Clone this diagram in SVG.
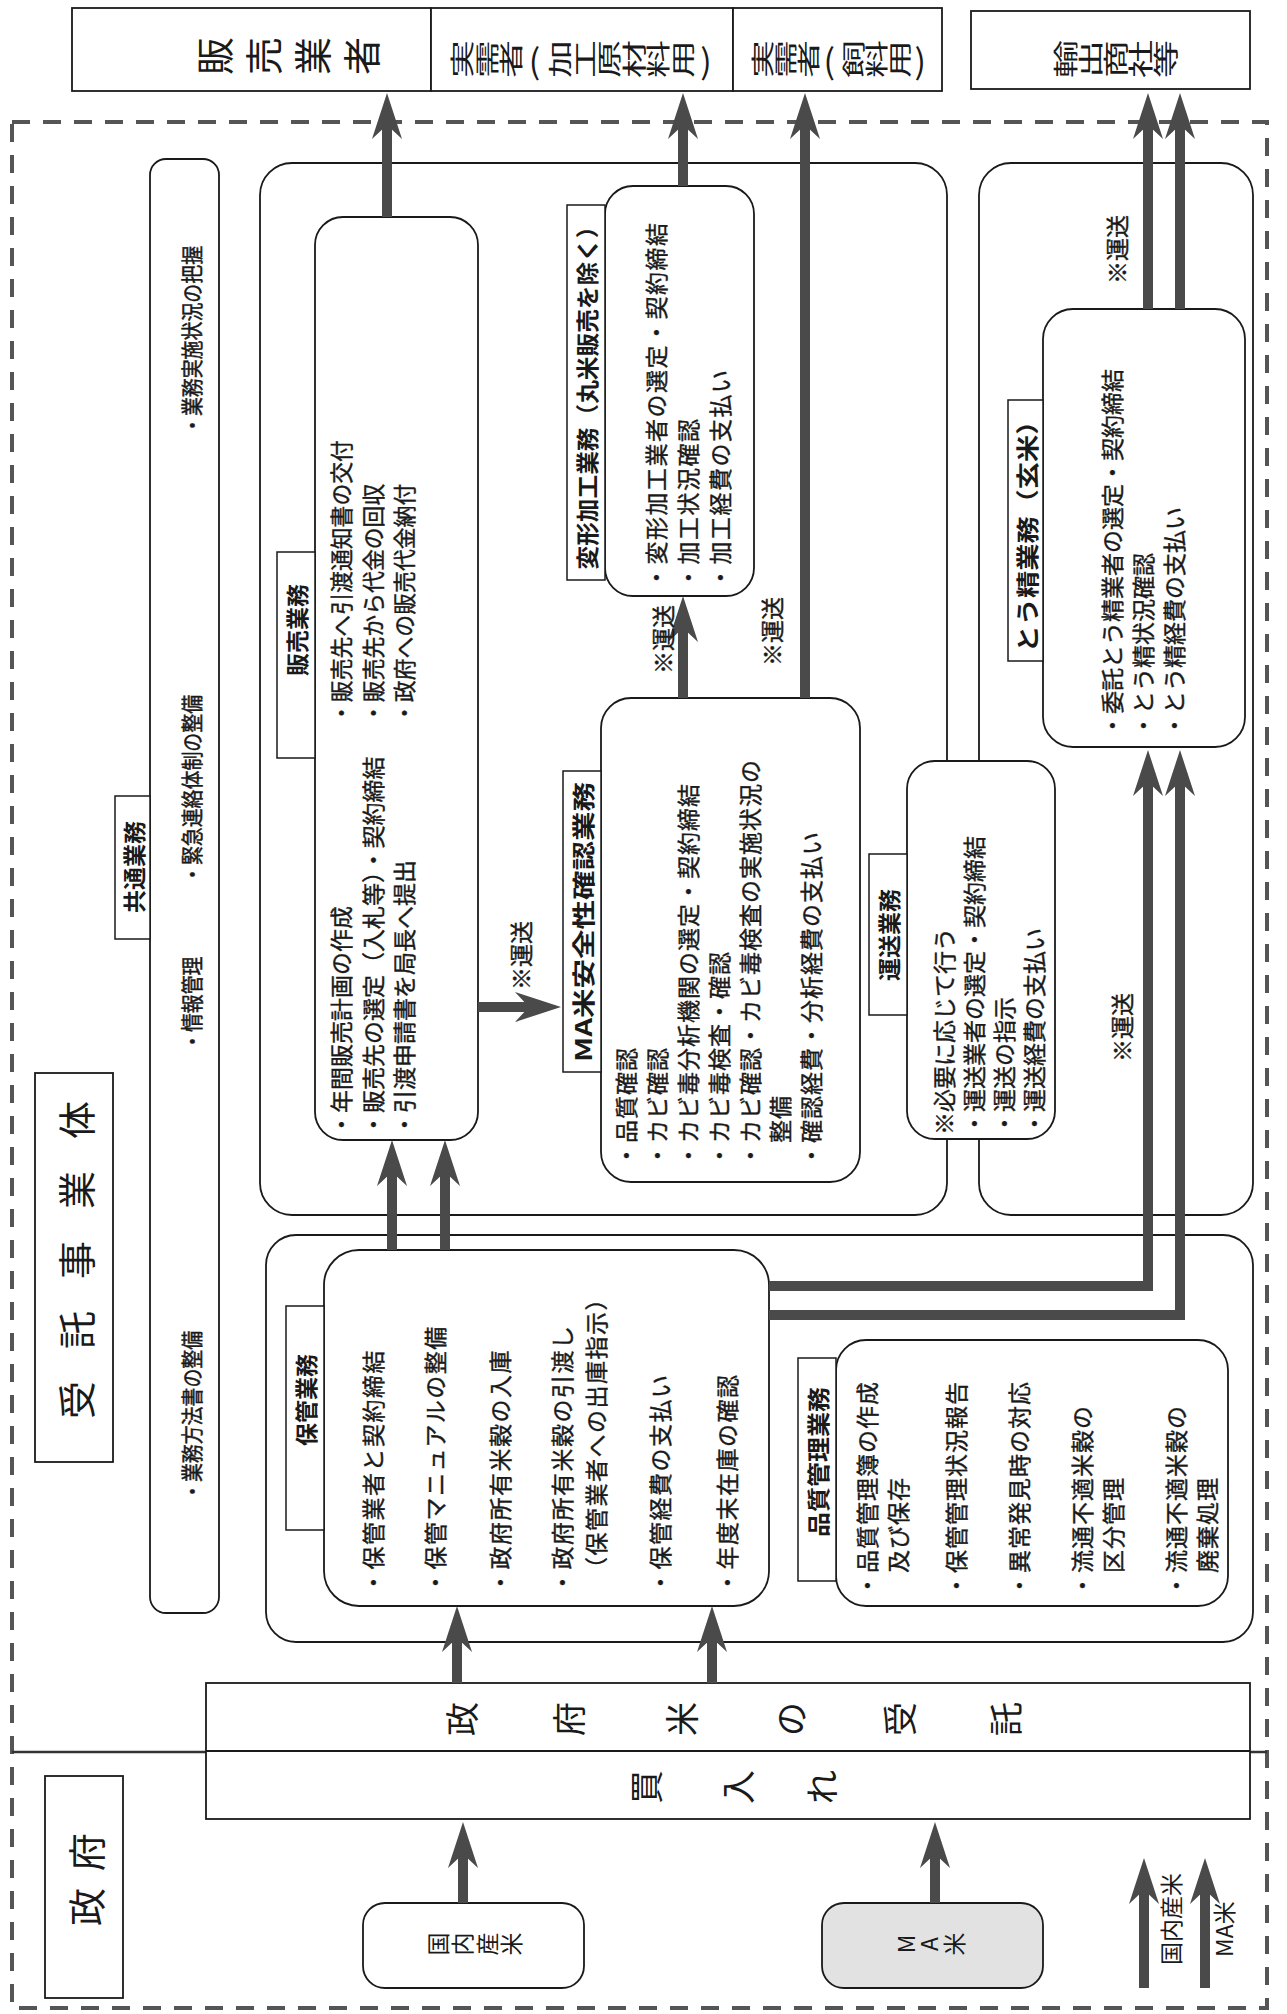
<svg xmlns="http://www.w3.org/2000/svg" width="1287" height="2014" viewBox="0 0 1287 2014">
<style>
text{font-family:"Noto Sans CJK JP","Noto Sans CJK SC",sans-serif;fill:#1a1a1a;dominant-baseline:central}
.box{fill:#fff;stroke:#1a1a1a;stroke-width:1.8}
.grp{fill:none;stroke:#1a1a1a;stroke-width:1.8}
.lbl{fill:#fff;stroke:#1a1a1a;stroke-width:1.5}
.t{font-size:23px;stroke:#1a1a1a;stroke-width:0.4}
.c{font-size:22px;stroke:#1a1a1a;stroke-width:0.5}
.lt{font-size:23px;font-weight:bold;text-anchor:middle}
.g{text-anchor:middle}
.h1{font-size:38px}
.h2{font-size:38px}
.bd{font-size:34px}
.arr{stroke:#4a4a4a;stroke-width:10;fill:none;stroke-linejoin:miter;marker-end:url(#ah)}
.dash{fill:none;stroke:#555;stroke-width:4;stroke-dasharray:18 13}
</style>
<defs>
<marker id="ah" markerUnits="userSpaceOnUse" viewBox="0 -16 46 32" refX="16" refY="0" markerWidth="46" markerHeight="32" orient="auto">
<path d="M46,0 L0,-15 L14,0 L0,15 Z" fill="#4a4a4a"/>
</marker>
</defs>
<rect x="0" y="0" width="1287" height="2014" fill="#fff"/>

<g id="n-hanbai-gyosha">
<rect class="box" x="72" y="8" width="359" height="83"/>
<text class="g h1" transform="translate(212,56) rotate(-90)">販</text>
<text class="g h1" transform="translate(261,56) rotate(-90)">売</text>
<text class="g h1" transform="translate(310,56) rotate(-90)">業</text>
<text class="g h1" transform="translate(359,56) rotate(-90)">者</text>
</g>
<g id="n-jitsuju-kako">
<rect class="box" x="431" y="8" width="302" height="83"/>
<text class="g h2" transform="translate(461,59) scale(0.62,1) rotate(-90)">実</text>
<text class="g h2" transform="translate(485.5,59) scale(0.62,1) rotate(-90)">需</text>
<text class="g h2" transform="translate(510,59) scale(0.62,1) rotate(-90)">者</text>
<text class="g" style="font-size:34px" transform="translate(534.5,59)">(</text>
<text class="g h2" transform="translate(559,59) scale(0.62,1) rotate(-90)">加</text>
<text class="g h2" transform="translate(583.5,59) scale(0.62,1) rotate(-90)">工</text>
<text class="g h2" transform="translate(608,59) scale(0.62,1) rotate(-90)">原</text>
<text class="g h2" transform="translate(632.5,59) scale(0.62,1) rotate(-90)">材</text>
<text class="g h2" transform="translate(657,59) scale(0.62,1) rotate(-90)">料</text>
<text class="g h2" transform="translate(681.5,59) scale(0.62,1) rotate(-90)">用</text>
<text class="g" style="font-size:34px" transform="translate(706,59)">)</text>
</g>
<g id="n-jitsuju-shiryo">
<rect class="box" x="733" y="8" width="209" height="83"/>
<text class="g h2" transform="translate(761,59) scale(0.61,1) rotate(-90)">実</text>
<text class="g h2" transform="translate(783.75,59) scale(0.61,1) rotate(-90)">需</text>
<text class="g h2" transform="translate(806.5,59) scale(0.61,1) rotate(-90)">者</text>
<text class="g" style="font-size:34px" transform="translate(829.25,59)">(</text>
<text class="g h2" transform="translate(852,59) scale(0.61,1) rotate(-90)">飼</text>
<text class="g h2" transform="translate(874.75,59) scale(0.61,1) rotate(-90)">料</text>
<text class="g h2" transform="translate(897.5,59) scale(0.61,1) rotate(-90)">用</text>
<text class="g" style="font-size:34px" transform="translate(920.25,59)">)</text>
</g>
<g id="n-yushutsu">
<rect class="box" x="971" y="11" width="279" height="78"/>
<text class="g h2" transform="translate(1064.5,59) scale(0.66,1) rotate(-90)">輸</text>
<text class="g h2" transform="translate(1089.5,59) scale(0.66,1) rotate(-90)">出</text>
<text class="g h2" transform="translate(1114.5,59) scale(0.66,1) rotate(-90)">商</text>
<text class="g h2" transform="translate(1139.5,59) scale(0.66,1) rotate(-90)">社</text>
<text class="g h2" transform="translate(1164.5,59) scale(0.66,1) rotate(-90)">等</text>
</g>

<g id="n-region">
<rect class="dash" x="12" y="122" width="1255" height="1886"/>
<path d="M12,1752 H206 M1250,1752 H1267" stroke="#333" stroke-width="2.5" fill="none"/>
</g>

<g id="n-jutaku-label">
<rect class="box" x="35" y="1073" width="78" height="389"/>
<text class="g h1" transform="translate(74,1400) rotate(-90)">受</text>
<text class="g h1" transform="translate(74,1330) rotate(-90)">託</text>
<text class="g h1" transform="translate(74,1260) rotate(-90)">事</text>
<text class="g h1" transform="translate(74,1190) rotate(-90)">業</text>
<text class="g h1" transform="translate(74,1120) rotate(-90)">体</text>
</g>

<g id="n-kyotsu">
<rect class="box" x="150" y="159" width="69" height="1454" rx="16"/>
<rect class="lbl" x="115" y="796" width="35" height="143"/>
<text class="lt" transform="translate(132.5,867) rotate(-90)">共通業務</text>
<text class="c" transform="translate(190,435) rotate(-90) scale(0.86,1)">・業務実施状況の把握</text>
<text class="c" transform="translate(190,884) rotate(-90) scale(0.86,1)">・緊急連絡体制の整備</text>
<text class="c" transform="translate(190,1051) rotate(-90) scale(0.86,1)">・情報管理</text>
<text class="c" transform="translate(190,1501) rotate(-90) scale(0.86,1)">・業務方法書の整備</text>
</g>

<g id="n-hanbai-grp"><rect class="grp" x="260" y="163" width="687" height="1052" rx="32"/></g>
<g id="n-tousei-grp"><rect class="grp" x="979" y="163" width="274" height="1052" rx="32"/></g>
<g id="n-hokan-grp"><rect class="grp" x="266" y="1235" width="987" height="407" rx="30"/></g>

<g id="n-hanbai">
<rect class="box" x="315" y="217" width="163" height="923" rx="28"/>
<rect class="lbl" x="277" y="552" width="38" height="206"/>
<text class="lt" transform="translate(296,630) rotate(-90)">販売業務</text>
<text class="t" transform="translate(340,724) rotate(-90) scale(0.95,1)">・販売先へ引渡通知書の交付</text>
<text class="t" transform="translate(372,724) rotate(-90) scale(0.95,1)">・販売先から代金の回収</text>
<text class="t" transform="translate(403,724) rotate(-90) scale(0.95,1)">・政府への販売代金納付</text>
<text class="t" transform="translate(340,1136) rotate(-90)">・年間販売計画の作成</text>
<text class="t" transform="translate(372,1136) rotate(-90)">・販売先の選定（入札等）・契約締結</text>
<text class="t" transform="translate(403,1136) rotate(-90)">・引渡申請書を局長へ提出</text>
</g>

<g id="n-henkei">
<rect class="box" x="605" y="186" width="149" height="410" rx="28"/>
<rect class="lbl" x="567" y="205" width="38" height="375"/>
<text class="lt" textLength="355" lengthAdjust="spacingAndGlyphs" transform="translate(586,392) rotate(-90)">変形加工業務（丸米販売を除く）</text>
<g style="letter-spacing:1.5px">
<text class="t" transform="translate(655,589) rotate(-90)">・変形加工業者の選定・契約締結</text>
<text class="t" transform="translate(687,589) rotate(-90)">・加工状況確認</text>
<text class="t" transform="translate(719,589) rotate(-90)">・加工経費の支払い</text>
</g>
</g>

<g id="n-ma">
<rect class="box" x="601" y="698" width="259" height="484" rx="30"/>
<rect class="lbl" x="563" y="771" width="38" height="301"/>
<text class="lt" textLength="280" lengthAdjust="spacingAndGlyphs" transform="translate(582,922) rotate(-90)">MA米安全性確認業務</text>
<g style="letter-spacing:1px">
<text class="t" transform="translate(625,1167) rotate(-90)">・品質確認</text>
<text class="t" transform="translate(656,1167) rotate(-90)">・カビ確認</text>
<text class="t" transform="translate(687,1167) rotate(-90)">・カビ毒分析機関の選定・契約締結</text>
<text class="t" transform="translate(718,1167) rotate(-90)">・カビ毒検査・確認</text>
<text class="t" transform="translate(749,1167) rotate(-90)">・カビ確認・カビ毒検査の実施状況の</text>
<text class="t" transform="translate(779,1167) rotate(-90)">　整備</text>
<text class="t" transform="translate(810,1167) rotate(-90)">・確認経費・分析経費の支払い</text>
</g>
</g>

<g id="n-unso">
<rect class="box" x="907" y="761" width="148" height="378" rx="28"/>
<rect class="lbl" x="869" y="854" width="38" height="161"/>
<text class="lt" transform="translate(888,935) rotate(-90)">運送業務</text>
<text class="t" transform="translate(943,1135) rotate(-90)">※必要に応じて行う</text>
<text class="t" transform="translate(973,1135) rotate(-90)">・運送業者の選定・契約締結</text>
<text class="t" transform="translate(1003,1135) rotate(-90)">・運送の指示</text>
<text class="t" transform="translate(1033,1135) rotate(-90)">・運送経費の支払い</text>
</g>

<g id="n-tousei">
<rect class="box" x="1043" y="309" width="202" height="438" rx="30"/>
<rect class="lbl" x="1008" y="400" width="35" height="261"/>
<text class="lt" textLength="245" lengthAdjust="spacingAndGlyphs" transform="translate(1025.5,530) rotate(-90)">とう精業務（玄米）</text>
<text class="t" transform="translate(1111,737) rotate(-90)">・委託とう精業者の選定・契約締結</text>
<text class="t" transform="translate(1142,737) rotate(-90)">・とう精状況確認</text>
<text class="t" transform="translate(1173,737) rotate(-90)">・とう精経費の支払い</text>
</g>

<g id="n-hokan">
<rect class="box" x="324" y="1250" width="445" height="356" rx="35"/>
<rect class="lbl" x="286" y="1306" width="38" height="224"/>
<text class="lt" transform="translate(305,1400) rotate(-90)">保管業務</text>
<g style="letter-spacing:1.5px">
<text class="t" transform="translate(372,1594) rotate(-90)">・保管業者と契約締結</text>
<text class="t" transform="translate(434,1594) rotate(-90)">・保管マニュアルの整備</text>
<text class="t" transform="translate(499,1594) rotate(-90)">・政府所有米穀の入庫</text>
<text class="t" transform="translate(561,1594) rotate(-90)">・政府所有米穀の引渡し</text>
<text class="t" transform="translate(595,1580) rotate(-90)">（保管業者への出庫指示）</text>
<text class="t" transform="translate(659,1594) rotate(-90)">・保管経費の支払い</text>
<text class="t" transform="translate(726,1594) rotate(-90)">・年度末在庫の確認</text>
</g>
</g>

<g id="n-hinshitsu">
<rect class="box" x="836" y="1340" width="392" height="266" rx="30"/>
<rect class="lbl" x="798" y="1358" width="38" height="223"/>
<text class="lt" textLength="150" lengthAdjust="spacingAndGlyphs" transform="translate(817,1462) rotate(-90)">品質管理業務</text>
<g style="letter-spacing:1px">
<text class="t" transform="translate(866,1597) rotate(-90)">・品質管理簿の作成</text>
<text class="t" transform="translate(897,1597) rotate(-90)">　及び保存</text>
<text class="t" transform="translate(955,1597) rotate(-90)">・保管管理状況報告</text>
<text class="t" transform="translate(1018,1597) rotate(-90)">・異常発見時の対応</text>
<text class="t" transform="translate(1081,1597) rotate(-90)">・流通不適米穀の</text>
<text class="t" transform="translate(1112,1597) rotate(-90)">　区分管理</text>
<text class="t" transform="translate(1175,1597) rotate(-90)">・流通不適米穀の</text>
<text class="t" transform="translate(1206,1597) rotate(-90)">　廃棄処理</text>
</g>
</g>

<g id="n-band">
<rect class="box" x="206" y="1683" width="1044" height="136"/>
<line x1="206" y1="1751" x2="1250" y2="1751" stroke="#1a1a1a" stroke-width="1.8"/>
<text class="g bd" transform="translate(460,1719) rotate(-90)">政</text>
<text class="g bd" transform="translate(567,1719) rotate(-90)">府</text>
<text class="g bd" transform="translate(680,1719) rotate(-90)">米</text>
<text class="g bd" transform="translate(789,1719) rotate(-90)">の</text>
<text class="g bd" transform="translate(898,1719) rotate(-90)">受</text>
<text class="g bd" transform="translate(1004,1719) rotate(-90)">託</text>
<text class="g bd" transform="translate(644,1787) rotate(-90)">買</text>
<text class="g bd" transform="translate(736,1787) rotate(-90)">入</text>
<text class="g bd" transform="translate(820,1787) rotate(-90)">れ</text>
</g>

<g id="n-seifu-label">
<rect class="box" x="45" y="1776" width="78" height="222"/>
<text class="g h1" transform="translate(84,1907) rotate(-90)">政</text>
<text class="g h1" transform="translate(84,1852) rotate(-90)">府</text>
</g>

<g id="n-kokunai">
<rect class="box" x="363" y="1903" width="221" height="85" rx="22"/>
<text class="g" style="font-size:23px" transform="translate(437,1944) rotate(-90)">国</text>
<text class="g" style="font-size:23px" transform="translate(461,1944) rotate(-90)">内</text>
<text class="g" style="font-size:23px" transform="translate(486,1944) rotate(-90)">産</text>
<text class="g" style="font-size:23px" transform="translate(510,1944) rotate(-90)">米</text>
</g>
<g id="n-ma-rice">
<rect x="822" y="1903" width="221" height="85" rx="22" fill="#e2e2e2" stroke="#1a1a1a" stroke-width="1.8"/>
<text class="g" style="font-size:23px" transform="translate(905,1944) rotate(-90)">M</text>
<text class="g" style="font-size:23px" transform="translate(928,1944) rotate(-90)">A</text>
<text class="g" style="font-size:23px" transform="translate(953,1944) rotate(-90)">米</text>
</g>

<g id="n-legend">
<path class="arr" d="M1144,1988 V1888"/>
<path class="arr" d="M1205,1988 V1888"/>
<text style="font-size:23px" transform="translate(1170,1965) rotate(-90)">国内産米</text>
<text style="font-size:23px" transform="translate(1223,1957) rotate(-90)">MA米</text>
</g>

<g id="connectors">
<path class="arr" d="M387,217 V123"/>
<path class="arr" d="M683,186 V123"/>
<path class="arr" d="M683,698 V626"/>
<path class="arr" d="M805,698 V123"/>
<path class="arr" d="M1148,309 V123"/>
<path class="arr" d="M1180,309 V123"/>
<path class="arr" d="M478,1007 H531"/>
<path class="arr" d="M392,1250 V1170"/>
<path class="arr" d="M445,1250 V1170"/>
<path class="arr" d="M769,1286 H1148 V780"/>
<path class="arr" d="M769,1315 H1180 V780"/>
<path class="arr" d="M457,1683 V1636"/>
<path class="arr" d="M712,1683 V1636"/>
<path class="arr" d="M463,1903 V1852"/>
<path class="arr" d="M935,1903 V1852"/>
<text class="t" transform="translate(662,674) rotate(-90)">※運送</text>
<text class="t" transform="translate(771,666) rotate(-90)">※運送</text>
<text class="t" transform="translate(520,990) rotate(-90)">※運送</text>
<text class="t" transform="translate(1116,284) rotate(-90)">※運送</text>
<text class="t" transform="translate(1121,1062) rotate(-90)">※運送</text>
</g>
</svg>
